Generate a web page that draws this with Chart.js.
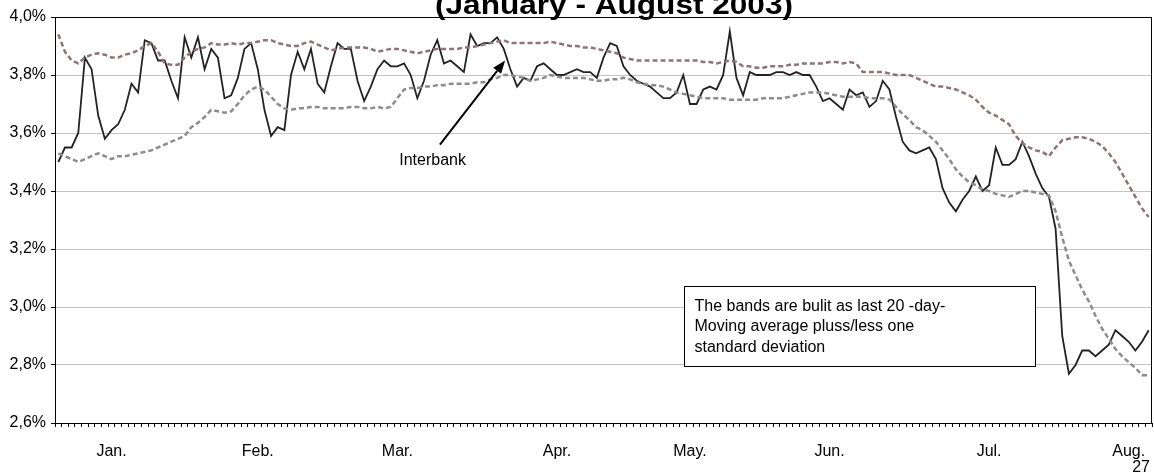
<!DOCTYPE html>
<html>
<head>
<meta charset="utf-8">
<script src="https://cdn.jsdelivr.net/npm/chart.js@4/dist/chart.umd.min.js"></script>
<style>
  html, body { margin: 0; padding: 0; background: #fff; }
  canvas { display: block; }
</style>
</head>
<body>
<canvas id="chart" width="1154" height="474"></canvas>
<script>
// Month tick labels and the trading-day index they sit on
const monthNames = ['Jan.', 'Feb.', 'Mar.', 'Apr.', 'May.', 'Jun.', 'Jul.', 'Aug.'];
const monthIndex = [8, 30, 51, 75, 95, 116, 140, 161];

// Interbank rate, % (one value per trading day, Jan - Aug 2003)
const interbank = [
  3.50, 3.55, 3.55, 3.60, 3.86, 3.82, 3.66, 3.58, 3.61, 3.63,
  3.68, 3.77, 3.74, 3.92, 3.91, 3.85, 3.85, 3.78, 3.72, 3.93,
  3.86, 3.93, 3.82, 3.89, 3.86, 3.72, 3.73, 3.79, 3.89, 3.91,
  3.82, 3.68, 3.59, 3.62, 3.61, 3.80, 3.88, 3.82, 3.89, 3.77,
  3.74, 3.83, 3.91, 3.89, 3.89, 3.78, 3.71, 3.76, 3.82, 3.85,
  3.83, 3.83, 3.84, 3.80, 3.72, 3.78, 3.87, 3.92, 3.84, 3.85,
  3.83, 3.81, 3.94, 3.90, 3.91, 3.91, 3.93, 3.89, 3.82, 3.76,
  3.79, 3.78, 3.83, 3.84, 3.82, 3.80, 3.80, 3.81, 3.82, 3.81,
  3.81, 3.79, 3.86, 3.91, 3.90, 3.83, 3.80, 3.78, 3.77, 3.76,
  3.74, 3.72, 3.72, 3.74, 3.80, 3.70, 3.70, 3.75, 3.76, 3.75,
  3.80, 3.95, 3.79, 3.73, 3.81, 3.80, 3.80, 3.80, 3.81, 3.81,
  3.80, 3.81, 3.80, 3.80, 3.76, 3.71, 3.72, 3.70, 3.68, 3.75,
  3.73, 3.74, 3.69, 3.71, 3.78, 3.75, 3.655, 3.57, 3.54, 3.53,
  3.54, 3.55, 3.51, 3.41, 3.36, 3.33, 3.37, 3.40, 3.45, 3.40,
  3.42, 3.55, 3.49, 3.49, 3.51, 3.57, 3.52, 3.46, 3.41, 3.38,
  3.27, 2.90, 2.77, 2.80, 2.85, 2.85, 2.83, 2.85, 2.87, 2.92,
  2.90, 2.88, 2.85, 2.88, 2.92
];

// Upper band: 20-day moving average plus one standard deviation
const upperBand = [
  3.94, 3.88, 3.85, 3.84, 3.86, 3.87, 3.875, 3.87, 3.86, 3.86,
  3.87, 3.875, 3.885, 3.90, 3.91, 3.88, 3.84, 3.835, 3.835, 3.86,
  3.88, 3.89, 3.895, 3.91, 3.905, 3.905, 3.91, 3.905, 3.91, 3.91,
  3.915, 3.92, 3.92, 3.91, 3.905, 3.90, 3.90, 3.91, 3.915, 3.905,
  3.895, 3.885, 3.89, 3.895, 3.895, 3.895, 3.895, 3.89, 3.88, 3.885,
  3.89, 3.89, 3.885, 3.88, 3.875, 3.88, 3.885, 3.89, 3.89, 3.89,
  3.89, 3.895, 3.895, 3.90, 3.905, 3.91, 3.915, 3.92, 3.91, 3.91,
  3.91, 3.91, 3.91, 3.91, 3.915, 3.91, 3.905, 3.90, 3.90, 3.895,
  3.895, 3.89, 3.885, 3.88, 3.875, 3.86, 3.855, 3.85, 3.85, 3.85,
  3.85, 3.85, 3.85, 3.85, 3.85, 3.85, 3.85, 3.845, 3.845, 3.84,
  3.845, 3.85, 3.845, 3.83, 3.83, 3.825, 3.825, 3.83, 3.83, 3.83,
  3.835, 3.835, 3.84, 3.84, 3.84, 3.84, 3.845, 3.845, 3.84, 3.845,
  3.84, 3.81, 3.81, 3.81, 3.81, 3.805, 3.80, 3.80, 3.80, 3.79,
  3.78, 3.77, 3.76, 3.76, 3.755, 3.75, 3.74, 3.73, 3.715, 3.69,
  3.67, 3.66, 3.645, 3.63, 3.59, 3.565, 3.55, 3.54, 3.535, 3.52,
  3.55, 3.575, 3.58, 3.585, 3.585, 3.58, 3.57, 3.555, 3.53, 3.50,
  3.46, 3.42, 3.38, 3.34, 3.31
];

// Lower band: 20-day moving average less one standard deviation
const lowerBand = [
  3.53, 3.52, 3.51, 3.50, 3.51, 3.52, 3.53, 3.52, 3.51, 3.52,
  3.52, 3.525, 3.53, 3.535, 3.54, 3.55, 3.56, 3.57, 3.58, 3.59,
  3.62, 3.635, 3.655, 3.68, 3.675, 3.67, 3.675, 3.70, 3.73, 3.75,
  3.76, 3.75, 3.725, 3.70, 3.685, 3.68, 3.685, 3.685, 3.69, 3.69,
  3.685, 3.685, 3.685, 3.685, 3.69, 3.69, 3.685, 3.685, 3.69, 3.685,
  3.69, 3.72, 3.75, 3.755, 3.755, 3.76, 3.76, 3.765, 3.765, 3.77,
  3.77, 3.77, 3.77, 3.775, 3.775, 3.785, 3.79, 3.80, 3.80, 3.795,
  3.79, 3.78, 3.785, 3.79, 3.80, 3.795, 3.79, 3.79, 3.79, 3.79,
  3.785, 3.78, 3.78, 3.785, 3.785, 3.79, 3.785, 3.775, 3.77, 3.765,
  3.765, 3.76, 3.75, 3.74, 3.735, 3.73, 3.725, 3.72, 3.72, 3.72,
  3.72, 3.715, 3.715, 3.715, 3.715, 3.715, 3.72, 3.72, 3.72, 3.72,
  3.725, 3.73, 3.735, 3.74, 3.74, 3.74, 3.735, 3.73, 3.725, 3.725,
  3.725, 3.725, 3.72, 3.72, 3.72, 3.715, 3.69, 3.665, 3.645, 3.62,
  3.61, 3.59, 3.57, 3.54, 3.51, 3.475, 3.45, 3.43, 3.42, 3.405,
  3.40, 3.39, 3.385, 3.38, 3.39, 3.40, 3.40, 3.395, 3.39, 3.385,
  3.33, 3.24, 3.16, 3.11, 3.06, 3.02, 2.97, 2.925, 2.89, 2.855,
  2.83, 2.81, 2.79, 2.765, 2.765
];

const titleText = '(January - August 2003)';
const noteLines = ['The bands are bulit as last 20 -day-', 'Moving average pluss/less one', 'standard deviation'];
const pageNumber = '27';

// category labels: blank for every day except the month marks
const dayLabels = interbank.map((v, i) => {
  const k = monthIndex.indexOf(i);
  return k >= 0 ? monthNames[k] : '';
});

const FONT = '"Liberation Sans", Arial, sans-serif';

// draws frame, title, arrow annotation, note box and page number
const decorations = {
  id: 'decorations',
  afterDraw(chart) {
    const ctx = chart.ctx;
    const a = chart.chartArea;
    const xs = chart.scales.x;
    const ys = chart.scales.y;
    ctx.save();

    // plot frame
    ctx.strokeStyle = '#000';
    ctx.lineWidth = 1;
    ctx.strokeRect(Math.round(a.left) + 0.5, Math.round(a.top) + 0.5,
      Math.round(a.right - a.left) - 1, Math.round(a.bottom - a.top));

    // title (second line, top part cut off)
    ctx.fillStyle = '#000';
    ctx.font = 'bold 28px ' + FONT;
    ctx.textAlign = 'center';
    ctx.textBaseline = 'alphabetic';
    const tw = ctx.measureText(titleText).width;
    ctx.save();
    ctx.translate(614, 13.5);
    ctx.scale(358 / tw, 1);
    ctx.fillText(titleText, 0, 0);
    ctx.restore();

    // arrow to the interbank line
    const x0 = xs.getPixelForValue(57.4), y0 = ys.getPixelForValue(3.56);
    const x1 = xs.getPixelForValue(67.2), y1 = ys.getPixelForValue(3.85);
    const ang = Math.atan2(y1 - y0, x1 - x0);
    const head = 13, wid = 5;
    const bx = x1 - head * Math.cos(ang), by = y1 - head * Math.sin(ang);
    ctx.strokeStyle = '#000';
    ctx.lineWidth = 2;
    ctx.beginPath();
    ctx.moveTo(x0, y0);
    ctx.lineTo(bx, by);
    ctx.stroke();
    ctx.beginPath();
    ctx.moveTo(x1, y1);
    ctx.lineTo(bx + wid * Math.sin(ang), by - wid * Math.cos(ang));
    ctx.lineTo(bx - wid * Math.sin(ang), by + wid * Math.cos(ang));
    ctx.closePath();
    ctx.fill();

    ctx.font = '16px ' + FONT;
    ctx.textAlign = 'center';
    ctx.textBaseline = 'middle';
    ctx.fillText('Interbank', xs.getPixelForValue(56.3), ys.getPixelForValue(3.505));

    // note box
    const bl = Math.round(xs.getPixelForValue(94.1)) + 0.5;
    const br = Math.round(xs.getPixelForValue(146.9)) + 0.5;
    const bt = Math.round(ys.getPixelForValue(3.072)) + 0.5;
    const bb = Math.round(ys.getPixelForValue(2.795)) + 0.5;
    ctx.fillStyle = '#fff';
    ctx.fillRect(bl, bt, br - bl, bb - bt);
    ctx.strokeStyle = '#000';
    ctx.lineWidth = 1;
    ctx.strokeRect(bl, bt, br - bl, bb - bt);
    ctx.fillStyle = '#000';
    ctx.textAlign = 'left';
    noteLines.forEach((t, i) => ctx.fillText(t, bl + 10, bt + 20 + i * 20.5));

    // page number
    ctx.textAlign = 'right';
    ctx.textBaseline = 'alphabetic';
    ctx.fillText(pageNumber, 1150, 472);

    ctx.restore();
  }
};

const chart = new Chart(document.getElementById('chart').getContext('2d'), {
  type: 'line',
  data: {
    labels: dayLabels,
    datasets: [
      {
        label: 'Upper band',
        data: upperBand,
        borderColor: '#8e7474',
        borderWidth: 2.5,
        borderDash: [5, 3],
        pointRadius: 0,
        tension: 0
      },
      {
        label: 'Lower band',
        data: lowerBand,
        borderColor: '#8c8c8c',
        borderWidth: 2.5,
        borderDash: [5, 3],
        pointRadius: 0,
        tension: 0
      },
      {
        label: 'Interbank',
        data: interbank,
        borderColor: '#222',
        borderWidth: 1.8,
        pointRadius: 0,
        tension: 0
      }
    ]
  },
  options: {
    responsive: false,
    animation: false,
    layout: { padding: { top: 17, right: 2, left: 0, bottom: 0 } },
    plugins: {
      legend: { display: false },
      tooltip: { enabled: false },
      title: { display: false }
    },
    scales: {
      x: {
        type: 'category',
        offset: true,
        afterFit: s => {
          s.height = 51;
          s.paddingLeft = 0;
          s.paddingRight = 0;
        },
        grid: {
          offset: true,
          drawOnChartArea: false,
          color: '#000',
          tickLength: 4
        },
        border: { color: '#000', width: 1 },
        ticks: {
          autoSkip: false,
          maxRotation: 0,
          minRotation: 0,
          padding: 15,
          color: '#000',
          font: { family: FONT, size: 16 }
        }
      },
      y: {
        min: 2.6,
        max: 4.0,
        afterFit: s => { s.width = 55; },
        grid: {
          color: '#c4c4c4',
          tickColor: '#000',
          tickLength: 4
        },
        border: { color: '#000', width: 1 },
        ticks: {
          stepSize: 0.2,
          padding: 5,
          color: '#000',
          font: { family: FONT, size: 16 },
          callback: v => v.toFixed(1).replace('.', ',') + '%'
        }
      }
    }
  },
  plugins: [decorations]
});
</script>
</body>
</html>
